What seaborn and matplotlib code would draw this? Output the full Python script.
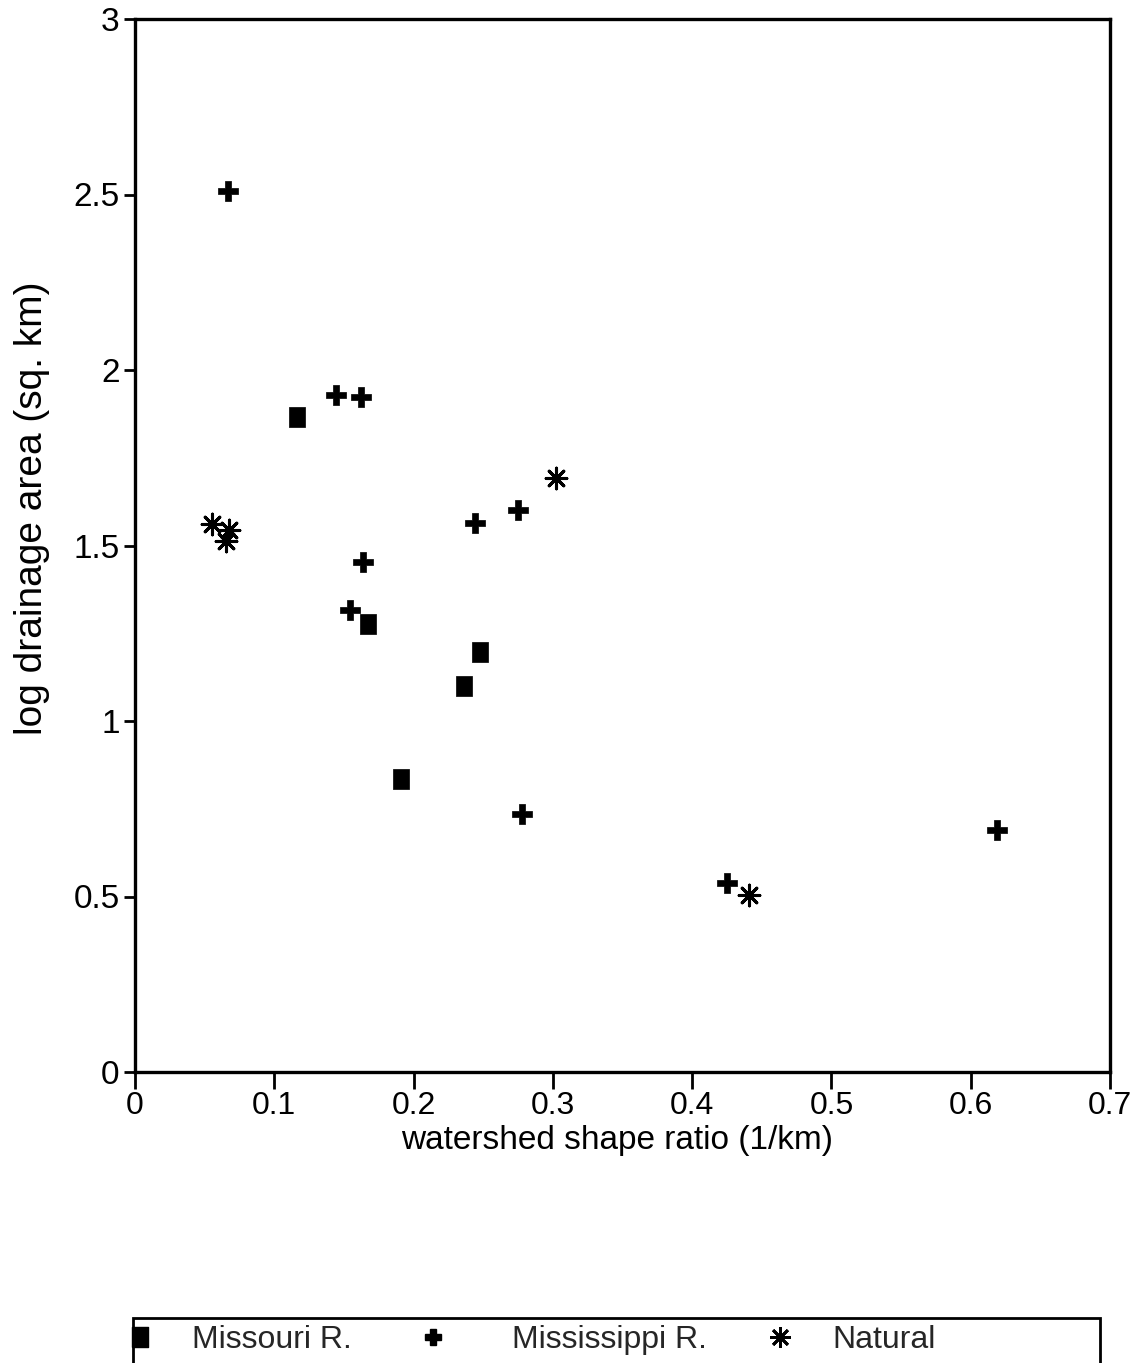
import matplotlib
matplotlib.use("Agg")
import matplotlib.pyplot as plt
import seaborn as sns
import pandas as pd
from matplotlib.patches import Rectangle
from matplotlib.lines import Line2D

# Data
missouri_x = [0.116, 0.167, 0.248, 0.236, 0.191]
missouri_y = [1.865, 1.277, 1.198, 1.100, 0.835]

mississippi_x = [0.067, 0.144, 0.162, 0.244, 0.275, 0.164, 0.154, 0.278, 0.425, 0.619]
mississippi_y = [2.509, 1.928, 1.922, 1.565, 1.602, 1.454, 1.317, 0.736, 0.539, 0.690]

natural_x = [0.302, 0.0553, 0.0675, 0.065, 0.441]
natural_y = [1.691, 1.560, 1.545, 1.514, 0.505]

x_ticks = [0, 0.1, 0.2, 0.3, 0.4, 0.5, 0.6, 0.7]
x_tick_labels = ["0", "0.1", "0.2", "0.3", "0.4", "0.5", "0.6", "0.7"]
y_ticks = [0, 0.5, 1, 1.5, 2, 2.5, 3]
y_tick_labels = ["0", "0.5", "1", "1.5", "2", "2.5", "3"]
group_names = ["Missouri R.", "Mississippi R.", "Natural"]

sns.set_theme(style="white")
plt.rcParams["font.family"] = ["Liberation Sans", "DejaVu Sans"]

fig = plt.figure(figsize=(11.47, 13.63), dpi=100)
ax = fig.add_axes([135 / 1147, 1 - 1072 / 1363, (1110 - 135) / 1147, (1072 - 19) / 1363])

sq_marker = [(-0.8, -1), (0.8, -1), (0.8, 1), (-0.8, 1), (-0.8, -1)]
star_marker = (8, 2, 0)

df_m = pd.DataFrame({"x": missouri_x, "y": missouri_y})
df_p = pd.DataFrame({"x": mississippi_x, "y": mississippi_y})
df_n = pd.DataFrame({"x": natural_x, "y": natural_y})

sns.scatterplot(data=df_m, x="x", y="y", ax=ax, marker=sq_marker, s=210,
                color="black", edgecolor="black", linewidth=0.5, label=group_names[0], legend=False)
sns.scatterplot(data=df_p, x="x", y="y", ax=ax, marker="P", s=200,
                color="black", edgecolor="black", linewidth=0.5, label=group_names[1], legend=False)
sns.scatterplot(data=df_n, x="x", y="y", ax=ax, marker=star_marker, s=220,
                color="black", linewidth=2.2, label=group_names[2], legend=False)

ax.set_xlim(0, 0.7)
ax.set_ylim(0, 3)
ax.set_xticks(x_ticks)
ax.set_xticklabels(x_tick_labels)
ax.set_yticks(y_ticks)
ax.set_yticklabels(y_tick_labels)
ax.tick_params(axis="x", direction="out", length=12, width=2, labelsize=23, pad=2,
               bottom=True, colors="black")
ax.tick_params(axis="y", direction="out", length=8, width=2, labelsize=24, pad=3,
               left=True, colors="black")
for sp in ax.spines.values():
    sp.set_linewidth(2.4)
    sp.set_color("black")
ax.set_xlabel("watershed shape ratio (1/km)", fontsize=24, color="black")
ax.set_ylabel("log drainage area (sq. km)", fontsize=28, color="black")
ax.xaxis.set_label_coords((617 - 135) / 975, -(1141 - 1072) / 1053)
ax.yaxis.set_label_coords((32 - 135) / 975, (1072 - 508) / 1053)
ax.xaxis.label.set_verticalalignment("center")
ax.yaxis.label.set_verticalalignment("center")
ax.grid(False)

# Legend frame (bottom edge beyond figure edge, as in reference)
fig.patches.append(Rectangle((133 / 1147, -0.02), (1100 - 133) / 1147, (1363 - 1318) / 1363 + 0.02,
                             transform=fig.transFigure, fill=False, edgecolor="black", linewidth=2))
handles = [
    Line2D([], [], linestyle="none", marker=sq_marker, markersize=15, color="black"),
    Line2D([], [], linestyle="none", marker="P", markersize=12, color="black"),
    Line2D([], [], linestyle="none", marker=star_marker, markersize=15, color="black", markeredgewidth=2),
]
fs = 23
em = fs * 100 / 72
hl = 1.5
pads = [28, 55, 28]
centers = [140, 433, 780]
for h, name, c, p in zip(handles, group_names, centers, pads):
    left = c - hl * em / 2 - 0.4 * em
    fig.legend([h], [name], loc="center left", bbox_to_anchor=(left / 1147, 1 - 1340 / 1363),
               frameon=False, fontsize=fs, handlelength=hl, handletextpad=p / em,
               borderpad=0.4, borderaxespad=0)

fig.savefig("out.png", dpi=100)
